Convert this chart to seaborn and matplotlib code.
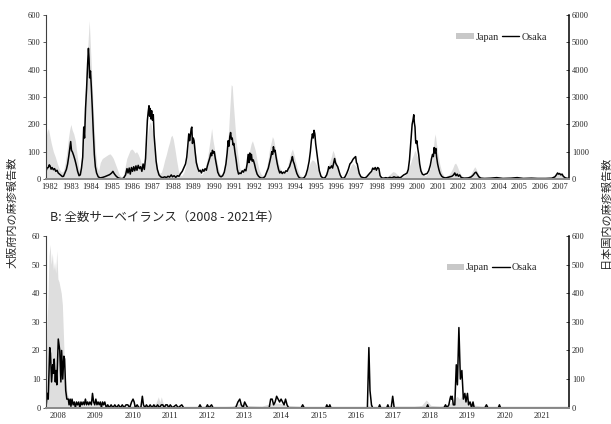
"""Measles reports: Osaka (left axis) vs Japan (right axis), two surveillance periods."""
import matplotlib
matplotlib.use("Agg")
import matplotlib.pyplot as plt
from matplotlib.patches import Patch
from matplotlib.lines import Line2D
import seaborn as sns

sns.set_theme(style="white")
plt.rcParams["font.family"] = ["Liberation Serif", "DejaVu Serif"]
CJK = ["Noto Sans CJK JP", "DejaVu Sans"]

# ---------------- data (decimal years) ----------------
# A: sentinel surveillance 1982-2007
osaka_a_yr = [
    1982.00, 1982.05, 1982.11, 1982.16, 1982.20, 1982.25, 1982.30, 1982.36, 1982.42, 1982.48,
    1982.54, 1982.60, 1982.66, 1982.72, 1982.80, 1982.86, 1982.93, 1983.00, 1983.06, 1983.12,
    1983.17, 1983.21, 1983.25, 1983.30, 1983.36, 1983.42, 1983.48, 1983.55, 1983.62, 1983.68,
    1983.74, 1983.80, 1983.85, 1983.89, 1983.94, 1983.99, 1984.04, 1984.08, 1984.11, 1984.14,
    1984.18, 1984.22, 1984.27, 1984.32, 1984.37, 1984.42, 1984.48, 1984.56, 1984.66, 1984.78,
    1984.90, 1985.00, 1985.12, 1985.22, 1985.28, 1985.34, 1985.42, 1985.52, 1985.62, 1985.72,
    1985.80, 1985.90, 1985.97, 1986.02, 1986.08, 1986.13, 1986.19, 1986.24, 1986.30, 1986.35,
    1986.41, 1986.46, 1986.52, 1986.58, 1986.64, 1986.70, 1986.76, 1986.82, 1986.88, 1986.93,
    1986.97, 1987.01, 1987.05, 1987.08, 1987.11, 1987.14, 1987.18, 1987.22, 1987.26, 1987.30,
    1987.35, 1987.40, 1987.46, 1987.54, 1987.62, 1987.72, 1987.82, 1987.90, 1987.98, 1988.06,
    1988.14, 1988.20, 1988.28, 1988.36, 1988.44, 1988.52, 1988.60, 1988.68, 1988.76, 1988.84,
    1988.90, 1988.95, 1989.00, 1989.04, 1989.08, 1989.12, 1989.15, 1989.18, 1989.22, 1989.26,
    1989.31, 1989.37, 1989.44, 1989.50, 1989.56, 1989.62, 1989.68, 1989.74, 1989.80, 1989.86,
    1989.92, 1989.98, 1990.04, 1990.08, 1990.12, 1990.16, 1990.20, 1990.25, 1990.30, 1990.36,
    1990.42, 1990.50, 1990.58, 1990.66, 1990.74, 1990.82, 1990.88, 1990.93, 1990.97, 1991.01,
    1991.05, 1991.09, 1991.13, 1991.17, 1991.21, 1991.26, 1991.32, 1991.38, 1991.44, 1991.50,
    1991.56, 1991.62, 1991.68, 1991.74, 1991.80, 1991.86, 1991.91, 1991.95, 1991.99, 1992.03,
    1992.07, 1992.11, 1992.16, 1992.22, 1992.28, 1992.35, 1992.42, 1992.50, 1992.58, 1992.66,
    1992.74, 1992.82, 1992.90, 1992.96, 1993.02, 1993.07, 1993.11, 1993.15, 1993.19, 1993.23,
    1993.28, 1993.34, 1993.40, 1993.46, 1993.52, 1993.58, 1993.64, 1993.70, 1993.76, 1993.82,
    1993.88, 1993.94, 1994.00, 1994.04, 1994.08, 1994.12, 1994.17, 1994.22, 1994.30, 1994.38,
    1994.46, 1994.56, 1994.66, 1994.74, 1994.82, 1994.90, 1994.96, 1995.01, 1995.06, 1995.10,
    1995.14, 1995.18, 1995.22, 1995.28, 1995.34, 1995.40, 1995.48, 1995.58, 1995.68, 1995.76,
    1995.82, 1995.86, 1995.90, 1995.95, 1996.00, 1996.05, 1996.10, 1996.15, 1996.19, 1996.24,
    1996.30, 1996.36, 1996.42, 1996.50, 1996.58, 1996.66, 1996.74, 1996.82, 1996.90, 1996.98,
    1997.05, 1997.12, 1997.18, 1997.22, 1997.26, 1997.30, 1997.36, 1997.44, 1997.54, 1997.64,
    1997.72, 1997.80, 1997.88, 1997.96, 1998.02, 1998.08, 1998.14, 1998.20, 1998.26, 1998.32,
    1998.38, 1998.46, 1998.56, 1998.66, 1998.76, 1998.86, 1998.96, 1999.06, 1999.16, 1999.26,
    1999.36, 1999.46, 1999.54, 1999.62, 1999.70, 1999.76, 1999.82, 1999.87, 1999.91, 1999.95,
    1999.99, 2000.03, 2000.06, 2000.09, 2000.12, 2000.15, 2000.18, 2000.22, 2000.27, 2000.32,
    2000.38, 2000.45, 2000.52, 2000.60, 2000.68, 2000.76, 2000.84, 2000.90, 2000.95, 2000.99,
    2001.03, 2001.07, 2001.11, 2001.15, 2001.20, 2001.26, 2001.32, 2001.40, 2001.50, 2001.60,
    2001.70, 2001.80, 2001.90, 2001.98, 2002.04, 2002.10, 2002.16, 2002.22, 2002.28, 2002.36,
    2002.50, 2002.70, 2002.85, 2002.95, 2003.02, 2003.08, 2003.14, 2003.22, 2003.32, 2003.50,
    2003.80, 2004.10, 2004.40, 2004.80, 2005.10, 2005.40, 2005.80, 2006.10, 2006.50, 2006.80,
    2006.95, 2007.02, 2007.08, 2007.13, 2007.18, 2007.24, 2007.30, 2007.36, 2007.44, 2007.52,
    2007.62,
]
osaka_a = [
    28, 40, 42, 52, 48, 36, 42, 34, 38, 28,
    32, 22, 18, 14, 9, 10, 22, 35, 55, 85,
    115, 137, 105, 98, 85, 70, 52, 28, 12, 15,
    40, 80, 190, 150, 260, 330, 420, 478, 440, 370,
    395, 340, 260, 170, 90, 45, 22, 8, 4, 6,
    9, 12, 16, 22, 28, 20, 12, 5, 2, 1,
    3, 15, 38, 22, 40, 18, 42, 28, 45, 30,
    48, 32, 50, 38, 45, 28, 55, 35, 75, 150,
    215, 245, 268, 230, 258, 220, 250, 215, 235, 160,
    110, 65, 35, 15, 8, 5, 8, 5, 10, 7,
    15, 8, 12, 6, 12, 10, 20, 28, 42, 55,
    80, 120, 165, 140, 160, 185, 190, 130, 150, 140,
    100, 60, 40, 28, 32, 22, 35, 28, 38, 32,
    50, 65, 80, 95, 85, 105, 95, 100, 75, 50,
    25, 12, 8, 12, 25, 55, 95, 140, 120, 155,
    170, 145, 150, 125, 130, 100, 70, 35, 18, 22,
    20, 30, 25, 35, 30, 55, 90, 60, 95, 70,
    90, 65, 70, 55, 35, 18, 10, 5, 3, 4,
    10, 25, 40, 60, 80, 100, 90, 118, 100, 105,
    80, 55, 35, 22, 28, 20, 25, 22, 30, 28,
    38, 45, 60, 70, 82, 65, 55, 40, 20, 8,
    3, 2, 5, 15, 35, 65, 100, 140, 165, 150,
    178, 165, 130, 95, 60, 30, 10, 3, 5, 15,
    30, 45, 38, 42, 48, 40, 58, 75, 60, 52,
    45, 30, 15, 4, 2, 8, 20, 35, 55, 62,
    72, 78, 82, 60, 55, 40, 20, 8, 5, 4,
    8, 15, 22, 28, 40, 35, 42, 32, 42, 38,
    12, 4, 3, 5, 3, 6, 4, 8, 5, 7,
    4, 10, 15, 18, 22, 35, 70, 120, 160, 200,
    215, 235, 205, 190, 140, 130, 140, 115, 90, 55,
    30, 18, 15, 18, 20, 30, 50, 75, 90, 82,
    115, 95, 112, 80, 55, 35, 20, 10, 5, 4,
    6, 8, 10, 15, 22, 12, 18, 10, 15, 5,
    3, 4, 8, 15, 22, 25, 18, 8, 3, 2,
    3, 5, 2, 3, 5, 2, 3, 2, 2, 3,
    8, 15, 22, 18, 20, 15, 18, 10, 5, 3,
    2,
]

japan_a_yr = [
    1982.00, 1982.06, 1982.12, 1982.18, 1982.26, 1982.36, 1982.46, 1982.56, 1982.66, 1982.76,
    1982.86, 1982.94, 1983.02, 1983.10, 1983.16, 1983.22, 1983.28, 1983.36, 1983.44, 1983.52,
    1983.60, 1983.66, 1983.72, 1983.78, 1983.84, 1983.92, 1984.00, 1984.06, 1984.12, 1984.18,
    1984.26, 1984.34, 1984.42, 1984.50, 1984.58, 1984.66, 1984.76, 1984.86, 1984.96, 1985.06,
    1985.14, 1985.22, 1985.30, 1985.40, 1985.50, 1985.60, 1985.72, 1985.80, 1985.88, 1985.96,
    1986.04, 1986.12, 1986.20, 1986.28, 1986.36, 1986.44, 1986.52, 1986.60, 1986.68, 1986.76,
    1986.84, 1986.92, 1987.00, 1987.06, 1987.12, 1987.18, 1987.24, 1987.30, 1987.38, 1987.46,
    1987.56, 1987.66, 1987.74, 1987.82, 1987.90, 1987.98, 1988.06, 1988.12, 1988.18, 1988.24,
    1988.32, 1988.40, 1988.48, 1988.56, 1988.66, 1988.76, 1988.86, 1988.94, 1989.02, 1989.08,
    1989.14, 1989.20, 1989.26, 1989.34, 1989.42, 1989.52, 1989.62, 1989.72, 1989.82, 1989.92,
    1990.00, 1990.06, 1990.12, 1990.18, 1990.26, 1990.34, 1990.42, 1990.52, 1990.62, 1990.72,
    1990.82, 1990.90, 1990.96, 1991.02, 1991.08, 1991.13, 1991.18, 1991.24, 1991.32, 1991.40,
    1991.50, 1991.60, 1991.72, 1991.82, 1991.92, 1992.00, 1992.06, 1992.12, 1992.18, 1992.26,
    1992.34, 1992.44, 1992.56, 1992.68, 1992.78, 1992.88, 1992.96, 1993.04, 1993.10, 1993.16,
    1993.22, 1993.30, 1993.40, 1993.50, 1993.62, 1993.74, 1993.84, 1993.94, 1994.02, 1994.08,
    1994.14, 1994.22, 1994.32, 1994.44, 1994.56, 1994.68, 1994.78, 1994.88, 1994.96, 1995.04,
    1995.12, 1995.20, 1995.30, 1995.40, 1995.52, 1995.62, 1995.72, 1995.82, 1995.92, 1996.00,
    1996.06, 1996.12, 1996.20, 1996.28, 1996.38, 1996.48, 1996.60, 1996.72, 1996.84, 1996.96,
    1997.04, 1997.12, 1997.22, 1997.32, 1997.42, 1997.56, 1997.70, 1997.84, 1997.96, 1998.06,
    1998.14, 1998.22, 1998.30, 1998.40, 1998.52, 1998.66, 1998.78, 1998.90, 1999.00, 1999.10,
    1999.20, 1999.32, 1999.46, 1999.58, 1999.68, 1999.78, 1999.86, 1999.94, 2000.02, 2000.08,
    2000.14, 2000.22, 2000.30, 2000.40, 2000.50, 2000.62, 2000.72, 2000.82, 2000.92, 2000.98,
    2001.04, 2001.08, 2001.14, 2001.22, 2001.30, 2001.40, 2001.50, 2001.62, 2001.74, 2001.84,
    2001.94, 2002.02, 2002.08, 2002.14, 2002.22, 2002.32, 2002.44, 2002.60, 2002.74, 2002.86,
    2002.94, 2003.02, 2003.08, 2003.16, 2003.26, 2003.40, 2003.60, 2004.00, 2004.40, 2004.80,
    2005.20, 2005.60, 2006.00, 2006.40, 2006.80, 2006.92, 2007.00, 2007.06, 2007.12, 2007.20,
    2007.30, 2007.40, 2007.50, 2007.62,
]
japan_a = [
    1500, 1750, 1850, 1600, 1300, 1000, 800, 550, 350, 250,
    300, 600, 1000, 1500, 1800, 2000, 1800, 1650, 1400, 900,
    450, 250, 600, 1200, 2000, 3200, 4300, 5000, 5800, 4800,
    3500, 2200, 1100, 450, 300, 600, 750, 800, 850, 900,
    920, 850, 750, 550, 350, 150, 60, 150, 450, 750,
    900, 1050, 1100, 1050, 950, 1000, 900, 750, 550, 500,
    800, 1200, 1700, 2000, 2100, 1900, 1700, 1200, 700, 350,
    200, 250, 450, 700, 900, 1150, 1350, 1550, 1600, 1450,
    1100, 700, 350, 150, 120, 250, 500, 1000, 1450, 1700,
    1500, 1300, 1350, 900, 500, 250, 150, 250, 450, 800,
    1200, 1500, 1850, 1450, 1100, 800, 500, 200, 150, 350,
    700, 1200, 1900, 2700, 3450, 3400, 2800, 2200, 1400, 900,
    400, 200, 300, 450, 800, 1100, 1300, 1400, 1250, 1050,
    700, 350, 150, 120, 300, 700, 1100, 1350, 1550, 1450,
    1200, 900, 550, 350, 200, 250, 450, 800, 1000, 1100,
    950, 700, 400, 150, 80, 150, 250, 450, 600, 700,
    680, 600, 450, 250, 100, 80, 200, 450, 650, 850,
    1050, 950, 750, 500, 250, 100, 60, 120, 300, 500,
    580, 520, 430, 250, 100, 50, 80, 200, 280, 350,
    390, 320, 250, 120, 50, 60, 120, 200, 270, 250,
    180, 100, 80, 120, 220, 400, 550, 750, 900, 1050,
    950, 780, 550, 300, 150, 120, 200, 350, 700, 1100,
    1500, 1650, 1300, 900, 550, 250, 120, 80, 150, 250,
    400, 550, 580, 500, 350, 180, 80, 50, 100, 220,
    350, 450, 380, 250, 100, 50, 30, 40, 30, 40,
    30, 25, 30, 25, 50, 120, 220, 270, 220, 190,
    150, 90, 50, 30,
]
years_a = list(range(1982, 2008))

# B: notifiable (all-case) surveillance 2008-2021
osaka_b_yr = [
    2008.00, 2008.02, 2008.04, 2008.06, 2008.10, 2008.12, 2008.15, 2008.18, 2008.20, 2008.22,
    2008.25, 2008.27, 2008.29, 2008.33, 2008.37, 2008.40, 2008.42, 2008.45, 2008.48, 2008.50,
    2008.53, 2008.56, 2008.60, 2008.62, 2008.65, 2008.67, 2008.70, 2008.73, 2008.76, 2008.79,
    2008.82, 2008.85, 2008.88, 2008.91, 2008.94, 2008.97, 2009.00, 2009.03, 2009.06, 2009.09,
    2009.12, 2009.15, 2009.18, 2009.22, 2009.25, 2009.28, 2009.31, 2009.34, 2009.37, 2009.40,
    2009.43, 2009.46, 2009.49, 2009.52, 2009.55, 2009.58, 2009.62, 2009.66, 2009.70, 2009.75,
    2009.80, 2009.85, 2009.90, 2009.95, 2010.00, 2010.05, 2010.10, 2010.15, 2010.20, 2010.25,
    2010.30, 2010.34, 2010.37, 2010.40, 2010.45, 2010.50, 2010.55, 2010.59, 2010.62, 2010.66,
    2010.70, 2010.75, 2010.80, 2010.85, 2010.90, 2010.95, 2011.00, 2011.05, 2011.10, 2011.14,
    2011.18, 2011.22, 2011.26, 2011.30, 2011.34, 2011.40, 2011.50, 2011.55, 2011.65, 2011.70,
    2012.10, 2012.14, 2012.18, 2012.30, 2012.34, 2012.38, 2012.45, 2012.49, 2013.10, 2013.16,
    2013.21, 2013.25, 2013.30, 2013.34, 2013.38, 2013.42, 2014.00, 2014.04, 2014.08, 2014.12,
    2014.16, 2014.20, 2014.24, 2014.28, 2014.32, 2014.36, 2014.40, 2014.44, 2014.48, 2014.52,
    2014.86, 2014.90, 2014.94, 2015.52, 2015.55, 2015.58, 2015.60, 2015.63, 2015.66, 2016.64,
    2016.68, 2016.71, 2016.75, 2016.78, 2016.94, 2016.97, 2017.00, 2017.16, 2017.19, 2017.22,
    2017.28, 2017.32, 2017.36, 2018.23, 2018.26, 2018.29, 2018.70, 2018.74, 2018.78, 2018.83,
    2018.86, 2018.88, 2018.90, 2018.92, 2018.95, 2018.99, 2019.03, 2019.06, 2019.10, 2019.14,
    2019.18, 2019.22, 2019.26, 2019.29, 2019.33, 2019.36, 2019.40, 2019.44, 2019.48, 2019.51,
    2019.80, 2019.84, 2019.88, 2020.16, 2020.19, 2020.22, 2022.06,
]
osaka_b = [
    0, 3, 5, 3, 21, 19, 9, 15, 12, 17,
    9, 13, 8, 24, 20, 9, 20, 10, 18, 17,
    6, 3, 3, 1, 3, 0.5, 3, 1, 2, 0,
    2, 1, 2, 0, 2, 1, 2, 1, 3, 1,
    2, 1, 2, 1, 5, 2, 1, 3, 1, 2,
    1, 2, 0, 2, 1, 2, 0, 1, 0, 1,
    0, 1, 0, 1, 0, 1, 0, 1, 1, 0,
    2, 3, 2, 0, 1, 0, 0, 4, 1, 0,
    1, 0, 1, 0, 1, 0, 1, 0, 1, 1,
    0, 1, 1, 0, 1, 0, 1, 0, 1, 0,
    0, 1, 0, 0, 1, 0, 1, 0, 0, 2,
    3, 1, 0, 2, 1, 0, 0, 3, 3, 1,
    2, 4, 3, 2, 3, 2, 1, 3, 1, 0,
    0, 1, 0, 0, 1, 0, 0, 1, 0, 0,
    21, 6, 1, 0, 0, 1, 0, 0, 1, 0,
    0, 4, 0, 0, 1, 0, 0, 1, 0, 1,
    3, 4, 3, 4, 1, 1, 15, 8, 28, 10,
    13, 3, 5, 2, 5, 1, 2, 0, 2, 0,
    0, 1, 0, 0, 1, 0, 0,
]

japan_b_yr = [
    2008.00, 2008.02, 2008.05, 2008.08, 2008.11, 2008.14, 2008.17, 2008.20, 2008.23, 2008.26,
    2008.29, 2008.32, 2008.35, 2008.38, 2008.41, 2008.44, 2008.47, 2008.50, 2008.54, 2008.58,
    2008.64, 2008.72, 2008.85, 2009.00, 2009.30, 2009.60, 2010.00, 2010.40, 2010.80, 2010.95,
    2011.02, 2011.06, 2011.10, 2011.16, 2011.40, 2011.80, 2012.20, 2012.60, 2013.00, 2013.20,
    2013.40, 2013.80, 2014.10, 2014.30, 2014.50, 2015.00, 2015.50, 2016.00, 2016.60, 2016.70,
    2016.80, 2017.30, 2017.90, 2018.10, 2018.22, 2018.27, 2018.35, 2018.60, 2018.80, 2018.95,
    2019.05, 2019.12, 2019.20, 2019.30, 2019.38, 2019.50, 2019.70, 2020.00, 2020.30, 2020.60,
    2022.06,
]
japan_b = [
    100, 270, 370, 530, 570, 500, 540, 480, 510, 470,
    550, 450, 440, 420, 400, 360, 250, 130, 80, 45,
    27, 15, 10, 8, 10, 5, 5, 8, 5, 15,
    38, 20, 38, 10, 5, 3, 5, 3, 5, 15,
    8, 5, 18, 15, 8, 3, 2, 2, 3, 10,
    3, 5, 5, 8, 27, 20, 8, 5, 10, 25,
    40, 30, 45, 35, 25, 10, 5, 3, 1, 0,
    0,
]
years_b = list(range(2008, 2022))

JP_GRAY = "#dedede"
W, H = 611, 424


def px_rect(x0, y0, x1, y1):
    return [x0 / W, 1 - y1 / H, (x1 - x0) / W, (y1 - y0) / H]


def draw_panel(fig, rect, jp_x, jp_y, os_x, os_y, xlim, lmax, rmax, years, lab_off, leg_xy):
    ax = fig.add_axes(rect)
    axr = ax.twinx()
    axr.fill_between(jp_x, jp_y, color=JP_GRAY, lw=0)
    sns.lineplot(x=os_x, y=os_y, ax=ax, color="black", lw=1.1,
                 sort=False, estimator=None)
    ax.set_zorder(axr.get_zorder() + 1)
    ax.patch.set_visible(False)

    ax.set_xlim(*xlim)
    ax.set_ylim(0, lmax)
    axr.set_ylim(0, rmax)
    ax.set_yticks(range(0, lmax + 1, lmax // 6))
    axr.set_yticks(range(0, rmax + 1, rmax // 6))
    ax.set_xticks([y + lab_off for y in years])
    ax.set_xticklabels([str(y) for y in years])
    ax.set_xlabel("")
    ax.set_ylabel("")

    for a in (ax, axr):
        for s in a.spines.values():
            s.set_visible(False)
    ax.spines["left"].set_visible(True)
    ax.spines["left"].set_color("#404040")
    ax.spines["left"].set_linewidth(0.8)
    axr.spines["right"].set_visible(True)
    axr.spines["right"].set_color("black")
    axr.spines["right"].set_linewidth(1.1)
    ax.spines["bottom"].set_visible(True)
    ax.spines["bottom"].set_color("#8a8a8a")
    ax.spines["bottom"].set_linewidth(1.4)

    ax.tick_params(axis="x", length=0, labelsize=6, pad=3)
    ax.tick_params(axis="y", length=2.5, width=0.6, direction="out", labelsize=6, pad=1.5,
                   left=True, color="#404040")
    axr.tick_params(axis="y", length=2.5, width=0.6, direction="in", labelsize=6, pad=2,
                    right=True)

    handles = [Patch(facecolor="#c8c8c8", edgecolor="none", label="Japan"),
               Line2D([], [], color="black", lw=1.0, label="Osaka")]
    fig.legend(handles=handles, loc="center", bbox_to_anchor=leg_xy, ncol=2, frameon=False,
               fontsize=7.3, handlelength=1.7, handleheight=0.6, handletextpad=0.2,
               columnspacing=0.3, borderpad=0)
    return ax, axr


fig = plt.figure(figsize=(W / 100, H / 100), dpi=100)

draw_panel(fig, px_rect(46, 15, 569, 179), japan_a_yr, japan_a, osaka_a_yr, osaka_a,
           (1982.0, 2007.64), 600, 6000, years_a, 0.2, (501.5 / W, 1 - 37 / H))
draw_panel(fig, px_rect(46, 236, 569, 407.7), japan_b_yr, japan_b, osaka_b_yr, osaka_b,
           (2008.0, 2022.06), 60, 600, years_b, 0.33, (492 / W, 1 - 268 / H))

fig.text(50 / W, 1 - 217 / H, "B: 全数サーベイランス（2008 - 2021年）", family=CJK,
         fontsize=9, ha="left", va="center")
fig.text(12 / W, 1 - 212 / H, "大阪府内の麻疹報告数", family=CJK, fontsize=8,
         rotation=90, ha="center", va="center")
fig.text(606 / W, 1 - 212 / H, "日本国内の麻疹報告数", family=CJK, fontsize=8,
         rotation=90, ha="center", va="center")

fig.savefig("out.png", dpi=100)
plt.close(fig)
